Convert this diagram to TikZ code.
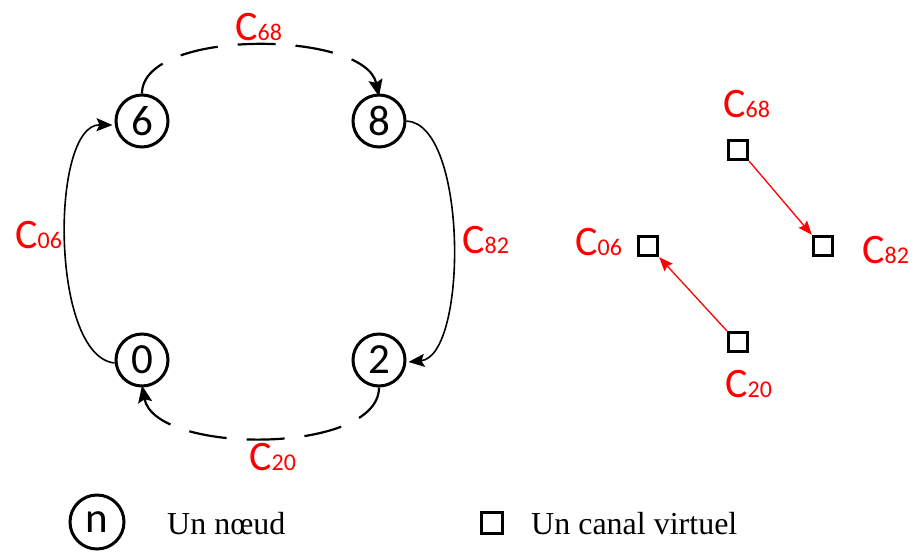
\documentclass[tikz,border=0pt]{standalone}
\usepackage{fontspec}
\setmainfont{Carlito}
\newfontfamily\legendfont{Liberation Serif}
\usetikzlibrary{arrows.meta}
\definecolor{lblred}{RGB}{255,0,0}
\newcommand\clab[2]{{\fontsize{42}{42}\selectfont #1}{\fontsize{24}{24}\selectfont #2}}
\tikzset{
  netnode/.style={circle,draw=black,line width=3pt,minimum size=52pt,inner sep=0pt,font=\fontsize{43}{43}\selectfont},
  vcbox/.style={rectangle,draw=black,line width=3.3pt,minimum size=19pt,inner sep=0pt},
  chlabel/.style={text=lblred,anchor=base west,inner sep=0pt},
  solidedge/.style={line width=1.6pt,-{Stealth[length=16pt,width=13pt,inset=3pt]}},
  dashedge/.style={line width=2.2pt,dash pattern=on 38pt off 20pt,-{Stealth[length=17pt,width=14pt,inset=3pt]}},
  redarrow/.style={draw=lblred,line width=1.3pt,-{Stealth[length=14pt,width=11pt,inset=2pt]}},
  legendtext/.style={anchor=base west,inner sep=0pt,font=\legendfont\fontsize{32}{32}\selectfont}
}
\begin{document}
\begin{tikzpicture}[x=1pt,y=-1pt]
\useasboundingbox (0,0) rectangle (913,552);
% ring nodes
\node[netnode] (n6) at (142,121) {6};
\node[netnode] (n8) at (379,121) {8};
\node[netnode] (n0) at (142,360) {0};
\node[netnode] (n2) at (379,360) {2};
% edges
\draw[dashedge] (n6.north) .. controls (142,28) and (365,30) .. ([yshift=-3pt]n8.north);
\draw[dashedge] (n2.south) .. controls (379,455) and (155,455) .. ([yshift=2pt]n0.south);
\draw[solidedge] (n8.east) .. controls (468,124) and (468,356) .. ([xshift=2pt,yshift=-2pt]n2.east);
\draw[solidedge] ([yshift=-3pt]n0.west) .. controls (50,356) and (50,124) .. ([xshift=-2pt,yshift=-4pt]n6.west);
% ring labels
\node[chlabel] (l68) at (235,40) {\clab{C}{68}};
\node[chlabel] (l82) at (462,253) {\clab{C}{82}};
\node[chlabel] (l20) at (249,470) {\clab{C}{20}};
\node[chlabel] (l06) at (15,248) {\clab{C}{06}};
% virtual channels
\node[vcbox] (s68) at (738,150) {};
\node[vcbox] (s82) at (823,246) {};
\node[vcbox] (s06) at (648,246) {};
\node[vcbox] (s20) at (738,342) {};
\draw[redarrow] (s68.south east) -- (s82.north west);
\draw[redarrow] (s20.north west) -- (s06.south east);
\node[chlabel] (v68) at (723,117) {\clab{C}{68}};
\node[chlabel] (v82) at (862,263) {\clab{C}{82}};
\node[chlabel] (v06) at (575,255) {\clab{C}{06}};
\node[chlabel] (v20) at (725,397) {\clab{C}{20}};
% legend
\node[netnode,minimum size=54pt] (legn) at (97,522) {n};
\node[legendtext] (legnt) at (167,534) {Un nœud};
\node[vcbox,minimum size=21pt,line width=3.5pt] (legs) at (492,523) {};
\node[legendtext] (legst) at (531,534) {Un canal virtuel};
\end{tikzpicture}
\end{document}
